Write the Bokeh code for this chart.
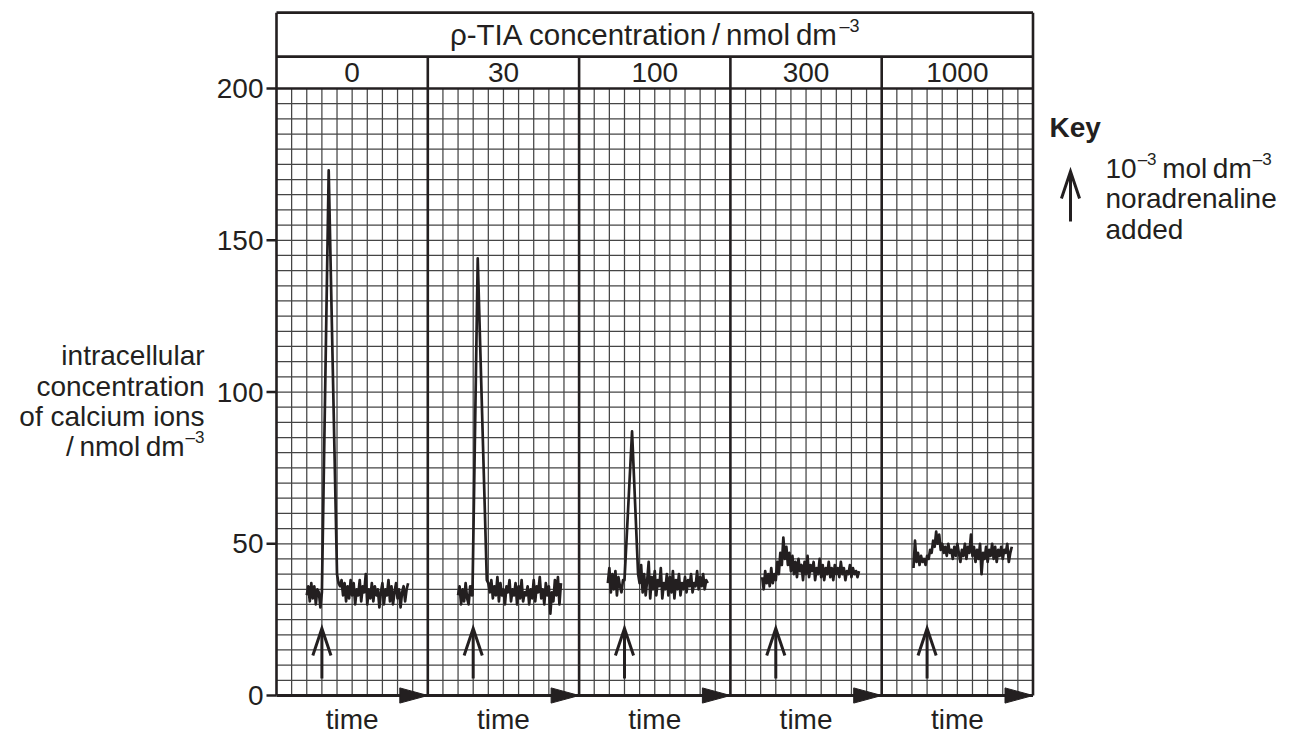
import numpy as np
from bokeh.plotting import figure
from bokeh.models import Range1d
from bokeh.embed import file_html
from bokeh.resources import INLINE
from bokeh.core.properties import value

# ---------------- data ----------------
panel_labels = ["0", "30", "100", "300", "1000"]
y_ticks = [0, 50, 100, 150, 200]
y_tick_labels = ["0", "50", "100", "150", "200"]
x_label = "time"
# rich texts: (text, is_superscript)
header_title = [("\u03c1-TIA concentration\u2009/\u2009nmol\u2009dm", False), ("\u20133", True)]
y_label_lines = [
    [("intracellular", False)],
    [("concentration", False)],
    [("of calcium ions", False)],
    [("/\u2009nmol\u2009dm", False), ("\u20133", True)],
]
key_title = "Key"
key_lines = [
    [("10", False), ("\u20133", True), ("\u2009mol\u2009dm", False), ("\u20133", True)],
    [("noradrenaline", False)],
    [("added", False)],
]
arrow_time = 3.0  # time (grid columns within each panel) of noradrenaline addition

# panel 0 (0 nmol dm-3)
p0_pre_start = 2.0
p0_pre = [33, 36, 31, 37, 32, 36, 30, 35, 34, 29]
p0_spike_t = [3.0, 3.45, 4.0]
p0_spike_v = [34, 173, 40]
p0_post_start = 4.1
p0_post = [37, 36, 38, 33, 37, 31, 36, 32, 38, 33, 37, 30, 35, 33, 38, 31, 36, 34, 40, 30,
           35, 32, 37, 31, 36, 33, 35, 29, 34, 37, 30, 35, 33, 38, 31, 36, 30, 34, 37, 32,
           35, 29, 34, 36, 31, 35, 37]

# panel 1 (30 nmol dm-3)
p1_pre_start = 2.0
p1_pre = [33, 36, 30, 35, 31, 37, 32, 30, 36, 33]
p1_spike_t = [2.95, 3.3, 3.9]
p1_spike_v = [33, 144, 38]
p1_post_start = 4.0
p1_post = [37, 34, 38, 32, 36, 33, 39, 31, 37, 33, 35, 30, 36, 34, 38, 31, 35, 33, 37, 30,
           36, 32, 38, 31, 34, 33, 36, 30, 35, 32, 38, 31, 36, 34, 39, 32, 35, 30, 37, 33,
           36, 27, 34, 31, 38, 33, 39, 30, 37]

# panel 2 (100 nmol dm-3)
p2_pre_start = 1.9
p2_pre = [37, 42, 34, 40, 35, 41, 33, 39, 36, 34, 38]
p2_spike_t = [3.0, 3.5, 3.9]
p2_spike_v = [38, 87, 40]
p2_post_start = 4.0
p2_post = [37, 43, 34, 40, 33, 38, 44, 32, 39, 35, 41, 33, 38, 36, 42, 32, 37, 35, 40, 33,
           39, 34, 41, 32, 38, 35, 40, 33, 37, 35, 39, 34, 38, 36, 40, 34, 37, 36, 41, 35,
           39, 36, 40, 35, 38, 37]

# panel 3 (300 nmol dm-3)
p3_start = 2.1
p3_vals = [39, 35, 41, 37, 40, 36, 42, 37, 40, 38,
           44, 40, 47, 43, 52, 45, 49, 43, 47, 41,
           46, 40, 44, 39, 45, 41, 43, 38, 44, 40, 46, 39, 43, 41, 44, 38, 42, 40, 45, 39,
           43, 38, 42, 40, 44, 39, 42, 38, 43, 40, 42, 39, 44, 40, 42, 38, 41, 40, 43, 39,
           42, 40, 41, 39, 41]

# panel 4 (1000 nmol dm-3)
p4_start = 2.1
p4_vals = [42, 51, 44, 47, 43, 46, 44, 45, 43, 46, 45, 48, 47, 51, 49, 54, 50, 53, 48, 50,
           47, 49, 46, 50, 47, 48, 45, 49, 46, 50, 47, 44, 48, 46, 50, 45, 49, 47, 53, 46,
           49, 44, 48, 45, 50, 40, 47, 45, 49, 44, 48, 46, 50, 45, 49, 44, 48, 46, 49, 45,
           48, 47, 50, 44, 47, 49]

STEP = 0.1

def seq(start, vals):
    return list(start + STEP * np.arange(len(vals)))

traces = [
    (seq(p0_pre_start, p0_pre) + p0_spike_t + seq(p0_post_start, p0_post), p0_pre + p0_spike_v + p0_post),
    (seq(p1_pre_start, p1_pre) + p1_spike_t + seq(p1_post_start, p1_post), p1_pre + p1_spike_v + p1_post),
    (seq(p2_pre_start, p2_pre) + p2_spike_t + seq(p2_post_start, p2_post), p2_pre + p2_spike_v + p2_post),
    (seq(p3_start, p3_vals), p3_vals),
    (seq(p4_start, p4_vals), p4_vals),
]

# ---------------- layout ----------------
FONT = "Liberation Sans"
INK = "#231f20"
NP = len(panel_labels)
PW = 10          # grid columns per panel
YMAX = 200
HDR_MID = 210.5  # line between title row and concentration row
HDR_TOP = 225.0

W, H = 1296, 735
PXX = 15.13      # pixels per grid column
PXY = 3.035      # pixels per nmol dm-3
X0PX, Y0PX = 276, 695   # pixel position of the data origin

def dx(px):
    return (px - X0PX) / PXX

def dy(py):
    return (Y0PX - py) / PXY

p = figure(width=W, height=H, output_backend="svg", toolbar_location=None,
           x_range=Range1d(dx(0), dx(W)), y_range=Range1d(dy(H), dy(0)),
           x_axis_location=None, y_axis_location=None,
           min_border_left=0, min_border_right=0, min_border_top=0, min_border_bottom=0)
p.outline_line_color = None
p.xgrid.visible = False
p.ygrid.visible = False
p.background_fill_color = "white"

XMAX = NP * PW
# fine grid
gx = [x for x in range(0, XMAX + 1) if x % PW != 0]
p.segment(x0=gx, y0=0, x1=gx, y1=YMAX, line_color="#454545", line_width=1.25)
gy = list(range(5, YMAX, 5))
p.segment(x0=0, y0=gy, x1=XMAX, y1=gy, line_color="#454545", line_width=1.25)

# thick frame lines
p.segment(x0=[0, XMAX], y0=0, x1=[0, XMAX], y1=HDR_TOP, line_color=INK, line_width=2.6)
dv = [PW * i for i in range(1, NP)]
p.segment(x0=dv, y0=0, x1=dv, y1=HDR_MID, line_color=INK, line_width=2.6)
p.segment(x0=0, y0=[YMAX, HDR_MID, HDR_TOP], x1=XMAX, y1=[YMAX, HDR_MID, HDR_TOP],
          line_color=INK, line_width=2.6)
p.segment(x0=0, y0=0, x1=XMAX, y1=0, line_color=INK, line_width=3.2)

# y-axis ticks and labels
p.segment(x0=dx(266), y0=y_ticks, x1=0, y1=y_ticks, line_color=INK, line_width=2.5)
p.text(x=[dx(263)] * len(y_ticks), y=y_ticks, text=y_tick_labels, text_align="right",
       text_baseline="middle", text_font=value(FONT), text_font_size="28px", text_color=INK)

# time-axis arrow heads at each panel end
tri_x = [[PW * (i + 1) - 1.85, PW * (i + 1), PW * (i + 1) - 1.85] for i in range(NP)]
tri_y = [[2.5, 0, -2.5] for _ in range(NP)]
p.patches(tri_x, tri_y, fill_color=INK, line_color=INK, line_width=1)

# traces
for i, (t, v) in enumerate(traces):
    p.line([PW * i + tt for tt in t], v, line_color=INK, line_width=2.7, line_join="round")

# noradrenaline arrows
def up_arrow(x, y_bottom, y_top, half_w=0.6, head_h=8.9):
    p.segment(x0=x, y0=y_bottom, x1=x, y1=y_top - 0.5, line_color=INK, line_width=3)
    p.multi_line([[x - half_w, x, x + half_w]], [[y_top - head_h, y_top, y_top - head_h]],
                 line_color=INK, line_width=3, line_join="miter")

for i in range(NP):
    up_arrow(PW * i + arrow_time, 5.6, 22.1)

# ---- rich text helper (approximate Arial / Liberation Sans advance widths) ----
ADV = {' ': 278, '\u2009': 200, '/': 278, '-': 333, '\u2013': 556, '\u03c1': 570,
       'T': 611, 'I': 278, 'A': 667, 'K': 667,
       'a': 556, 'c': 500, 'd': 556, 'e': 556, 'f': 278, 'i': 222, 'l': 222, 'm': 833,
       'n': 556, 'o': 556, 'r': 333, 's': 500, 't': 278, 'u': 556, 'y': 500}

def text_w(s, size):
    return sum(ADV.get(ch, 556) for ch in s) * size / 1000.0

def rich(x_px, mid_px, parts, align="left", size=28, sup_size=17, raise_px=9, gap=1.0):
    widths = [text_w(t, sup_size if sup else size) + (gap if sup else 0) for t, sup in parts]
    total = sum(widths)
    if align == "left":
        left = x_px
    elif align == "right":
        left = x_px - total
    else:
        left = x_px - total / 2
    cur = left
    for (t, sup), w in zip(parts, widths):
        if sup:
            p.text(x=[dx(cur + gap)], y=[dy(mid_px - raise_px)], text=[t], text_align="left",
                   text_baseline="middle", text_font=value(FONT),
                   text_font_size=f"{sup_size}px", text_color=INK)
        else:
            p.text(x=[dx(cur)], y=[dy(mid_px)], text=[t], text_align="left",
                   text_baseline="middle", text_font=value(FONT),
                   text_font_size=f"{size}px", text_color=INK)
        cur += w

# header texts
rich(X0PX + XMAX * PXX / 2, 34, header_title, align="center", size=29.5, sup_size=18, raise_px=9)
p.text(x=[PW * i + PW / 2 for i in range(NP)], y=[(HDR_MID + YMAX) / 2] * NP, text=panel_labels,
       text_align="center", text_baseline="middle", text_font=value(FONT),
       text_font_size="28px", text_color=INK)

# time labels
p.text(x=[PW * i + PW / 2 for i in range(NP)], y=[dy(719)] * NP, text=[x_label] * NP,
       text_align="center", text_baseline="middle", text_font=value(FONT),
       text_font_size="28px", text_color=INK)

# y-axis title (multi-line, right-aligned)
ylab_mid = [355, 386, 416, 446]
for parts, m in zip(y_label_lines, ylab_mid):
    rich(204, m, parts, align="right")

# key
p.text(x=[dx(1049)], y=[dy(127)], text=[key_title], text_align="left", text_baseline="middle",
       text_font=value(FONT), text_font_size="28px", text_font_style="bold", text_color=INK)
key_mid = [168, 198, 229]
for parts, m in zip(key_lines, key_mid):
    rich(1105, m, parts, align="left")
up_arrow(dx(1070), dy(221), dy(171))

open("out.html", "w").write(file_html(p, INLINE))
